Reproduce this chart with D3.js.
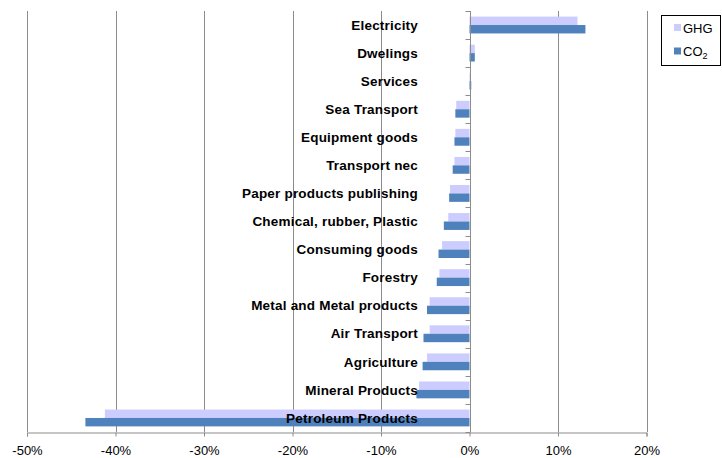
<!DOCTYPE html>
<html>
<head>
<meta charset="utf-8">
<script src="https://cdn.jsdelivr.net/npm/d3@7"></script>
<style>
  html, body { margin: 0; padding: 0; background: #fff; }
  svg { display: block; font-family: Arial, "Liberation Sans", sans-serif; }
</style>
</head>
<body>
<svg id="chart" width="722" height="458"></svg>
<script>
const categories = ["Electricity", "Dwelings", "Services", "Sea Transport", "Equipment goods",
  "Transport nec", "Paper products publishing", "Chemical, rubber, Plastic", "Consuming goods",
  "Forestry", "Metal and Metal products", "Air Transport", "Agriculture", "Mineral Products",
  "Petroleum Products"];
const ghg = [12.2, 0.6, 0.15, -1.5, -1.6, -1.7, -2.2, -2.4, -3.1, -3.4, -4.5, -4.5, -4.8, -5.7, -41.2];
const co2 = [13.1, 0.6, 0.2, -1.6, -1.7, -1.9, -2.3, -2.9, -3.5, -3.7, -4.8, -5.2, -5.3, -6.0, -43.4];
const xTicks = [-50, -40, -30, -20, -10, 0, 10, 20];
const seriesNames = ["GHG", "CO2"];
const colors = ["#CCCCFF", "#4F81BD"];

const svg = d3.select("#chart");
const x = d3.scaleLinear().domain([-50, 20]).range([27, 646.5]);
const y = d3.scaleBand().domain(categories).range([11, 432]).paddingInner(0.4).paddingOuter(0.2);
const sub = d3.scaleBand().domain(seriesNames).range([0, y.bandwidth()]);

// vertical gridlines
svg.append("g").selectAll("line").data(xTicks).join("line")
  .attr("x1", d => Math.round(x(d)) + 0.5).attr("x2", d => Math.round(x(d)) + 0.5)
  .attr("y1", 11).attr("y2", 432)
  .attr("stroke", "#8c8c8c").attr("stroke-width", 1);

// bottom axis
const xAxis = d3.axisBottom(x).tickValues(xTicks).tickFormat(d => d + "%").tickSize(4).tickPadding(9);
const gx = svg.append("g").attr("transform", "translate(0,432.5)").call(xAxis);
gx.select(".domain").attr("stroke", "#8c8c8c");
gx.selectAll(".tick line").attr("stroke", "#8c8c8c");
gx.selectAll(".tick text").attr("font-size", 13).attr("font-family", "Arial, 'Liberation Sans', sans-serif").attr("fill", "#000");

// bars
const series = [ghg, co2];
series.forEach((vals, si) => {
  svg.append("g").selectAll("rect").data(categories).join("rect")
    .attr("x", (d, i) => x(Math.min(0, vals[i])))
    .attr("width", (d, i) => Math.abs(x(vals[i]) - x(0)))
    .attr("y", d => y(d) + sub(seriesNames[si]))
    .attr("height", sub.bandwidth())
    .attr("fill", colors[si]);
});

// category axis at zero
const zx = Math.round(x(0)) + 0.5;
svg.append("line").attr("x1", zx).attr("x2", zx).attr("y1", 11).attr("y2", 432)
  .attr("stroke", "#8c8c8c");
const bounds = categories.map(c => y(c) - y.step() * y.paddingInner() / 2).concat([432]);
bounds[0] = 11;
svg.append("g").selectAll("line").data(bounds).join("line")
  .attr("x1", zx - 5).attr("x2", zx).attr("y1", d => Math.round(d) + 0.5).attr("y2", d => Math.round(d) + 0.5)
  .attr("stroke", "#8c8c8c");

// category labels
svg.append("g").selectAll("text").data(categories).join("text")
  .attr("x", 418).attr("y", d => y(d) + y.bandwidth() / 2)
  .attr("dy", "0.35em").attr("text-anchor", "end")
  .attr("font-size", 13.5).attr("letter-spacing", 0.2).attr("font-weight", "bold").attr("fill", "#000")
  .text(d => d);

// legend
const lg = svg.append("g");
lg.append("rect").attr("x", 661.5).attr("y", 15.5).attr("width", 59).attr("height", 50)
  .attr("fill", "#fff").attr("stroke", "#000");
seriesNames.forEach((s, i) => {
  const cy = 28 + i * 23.5;
  lg.append("rect").attr("x", 674).attr("y", cy - 4).attr("width", 7).attr("height", 7).attr("fill", colors[i]);
  const t = lg.append("text").attr("x", 683).attr("y", cy + 4.5).attr("font-size", 13).attr("fill", "#000");
  if (s === "CO2") {
    t.append("tspan").text("CO");
    t.append("tspan").attr("font-size", 9).attr("dy", 3).text("2");
  } else {
    t.text(s);
  }
});
</script>
</body>
</html>
